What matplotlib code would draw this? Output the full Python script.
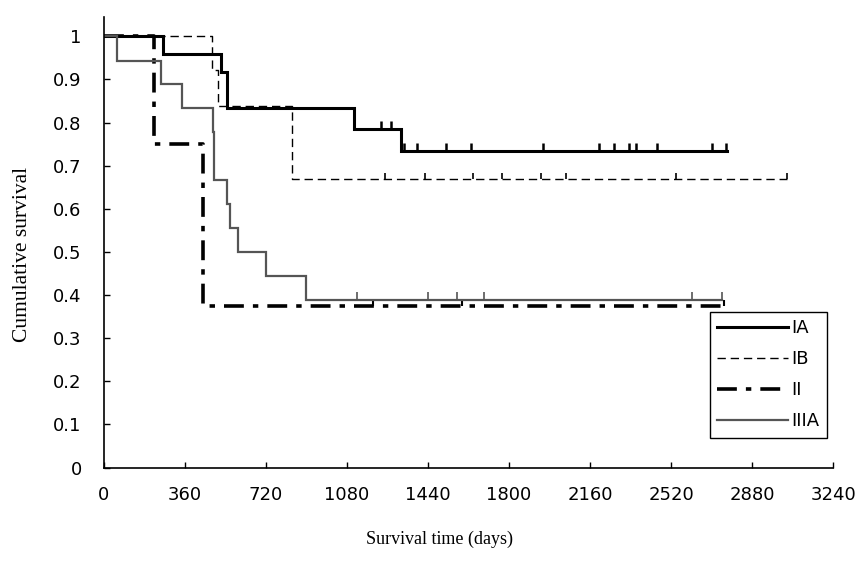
import numpy as np
import matplotlib
matplotlib.use("Agg")
import matplotlib.pyplot as plt
from matplotlib.lines import Line2D

# ---------------- data ----------------
ia_times = [0, 262, 522, 545, 1110, 1318]
ia_surv = [1.0, 0.958, 0.917, 0.833, 0.785, 0.733]
ia_end = 2770
ia_censor = [1229, 1274, 1332, 1389, 1522, 1633, 1953, 2201, 2268, 2335,
             2366, 2459, 2703, 2765]

ib_times = [0, 480, 506, 834]
ib_surv = [1.0, 0.923, 0.838, 0.670]
ib_end = 3036
ib_censor = [1247, 1425, 1638, 1767, 1944, 2055, 2543, 3036]

ii_times = [0, 222, 439]
ii_surv = [1.0, 0.75, 0.375]
ii_end = 2756
ii_censor = [1194, 1593, 2756]

iiia_times = [0, 58, 253, 346, 484, 487, 490, 545, 559, 596, 722, 900]
iiia_surv = [1.0, 0.944, 0.889, 0.833, 0.778, 0.722, 0.667, 0.611, 0.556,
             0.5, 0.444, 0.389]
iiia_end = 2747
iiia_censor = [1123, 1438, 1571, 1691, 2614, 2747]

group_labels = ["IA", "IB", "II", "IIIA"]
x_ticks = [0, 360, 720, 1080, 1440, 1800, 2160, 2520, 2880, 3240]
y_ticks = [0, 0.1, 0.2, 0.3, 0.4, 0.5, 0.6, 0.7, 0.8, 0.9, 1.0]
y_tick_labels = ["0", "0.1", "0.2", "0.3", "0.4", "0.5", "0.6", "0.7",
                 "0.8", "0.9", "1"]
x_label = "Survival time (days)"
y_label = "Cumulative survival"

# ---------------- figure ----------------
fig = plt.figure(figsize=(8.66, 5.66), dpi=100)
ax = fig.add_axes([0.120, 0.174, 0.842, 0.796])

styles = [
    dict(color="black", lw=2.2, ls="-", ms=6, mew=1.8),
    dict(color="black", lw=1.0, ls=(0, (6, 3.5)), ms=4, mew=1.2),
    dict(color="black", lw=2.6, ls=(0, (5.5, 2.5, 1.5, 2.5)), ms=4, mew=1.5),
    dict(color="#555555", lw=1.6, ls="-", ms=6, mew=1.2),
]
series = [
    (ia_times, ia_surv, ia_end, ia_censor),
    (ib_times, ib_surv, ib_end, ib_censor),
    (ii_times, ii_surv, ii_end, ii_censor),
    (iiia_times, iiia_surv, iiia_end, iiia_censor),
]

handles = []
for (t, s, end, cens), st, lab in zip(series, styles, group_labels):
    tt = list(t) + [end]
    ss = list(s) + [s[-1]]
    ax.step(tt, ss, where="post", color=st["color"], lw=st["lw"],
            ls=st["ls"], solid_joinstyle="miter")
    idx = np.searchsorted(np.array(t), np.array(cens), side="right") - 1
    cy = np.array(s)[idx]
    ax.plot(cens, cy, ls="none", marker=2, color=st["color"],
            ms=st["ms"], mew=st["mew"])
    handles.append(Line2D([0], [0], color=st["color"], lw=st["lw"],
                          ls=st["ls"], label=lab))

ax.set_xlim(0, 3240)
ax.set_ylim(0, 1.045)
ax.set_xticks(x_ticks)
ax.set_xticklabels([str(v) for v in x_ticks])
ax.set_yticks(y_ticks)
ax.set_yticklabels(y_tick_labels)

for side in ["top", "right"]:
    ax.spines[side].set_visible(False)
for side in ["left", "bottom"]:
    ax.spines[side].set_linewidth(1.2)
    ax.spines[side].set_color("black")

ax.tick_params(axis="both", direction="in", length=4, width=1.0,
               labelsize=13, colors="black")
ax.tick_params(axis="y", pad=16)
ax.tick_params(axis="x", pad=13)
for lbl in ax.get_xticklabels() + ax.get_yticklabels():
    lbl.set_fontfamily("DejaVu Sans")

ax.set_xlabel(x_label, family="Liberation Serif", fontsize=13)
ax.set_ylabel(y_label, family="Liberation Serif", fontsize=15.5)
ax.xaxis.set_label_coords(0.46, -0.141)
ax.yaxis.set_label_coords(-0.099, 0.472)

leg = ax.legend(handles=handles, loc="upper right",
                bbox_to_anchor=(0.991, 0.345), frameon=True, fancybox=False,
                framealpha=1, edgecolor="black", handlelength=3.9,
                handletextpad=0.2, borderpad=0.4, labelspacing=0.72,
                borderaxespad=0, prop={"family": "DejaVu Sans", "size": 13})
leg.get_frame().set_linewidth(1.0)

fig.savefig("out.png", dpi=100)
